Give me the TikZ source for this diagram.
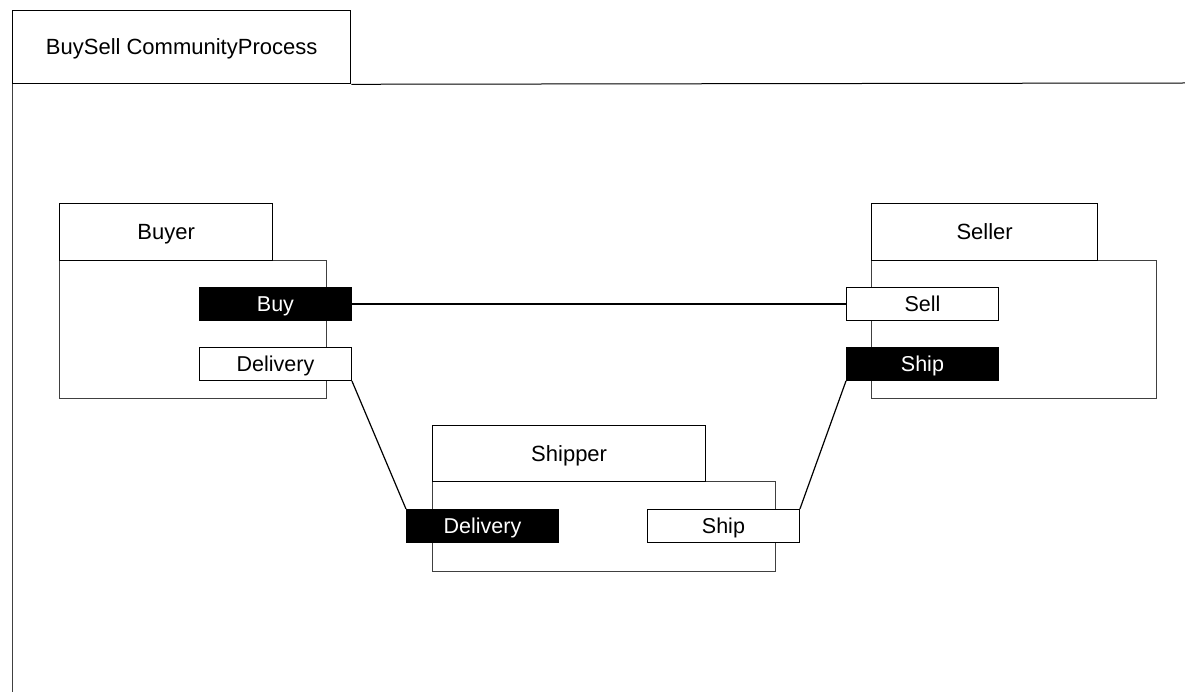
\documentclass[tikz,border=0pt]{standalone}
\usepackage{fontspec}
\setmainfont{Liberation Sans}
\begin{document}
\begin{tikzpicture}[x=1pt,y=-1pt,
  label text/.style={text height=15.6pt,text depth=0pt},
  tab/.style={draw=black,line width=1.3pt,fill=white,anchor=north west,inner sep=0pt,
    font=\fontsize{22}{26}\selectfont,label text},
  body/.style={draw=black!75,line width=0.9pt,fill=white,anchor=north west,inner sep=0pt},
  portw/.style={draw=black,line width=0.9pt,fill=white,anchor=north west,inner sep=0pt,
    minimum width=152pt,minimum height=33pt,font=\fontsize{21.5}{25}\selectfont,label text},
  portb/.style={portw,fill=black,text=white},
  wire/.style={draw=black,line width=1.2pt}]
\useasboundingbox (0,0) rectangle (1185,692);
% community frame
\node[tab,minimum width=338pt,minimum height=73pt] (community) at (12,10) {BuySell CommunityProcess};
\coordinate (frameEnd) at (1185,83);
\coordinate (frameBottom) at (12,692);
\draw[line width=1pt] (community.south east) -- (frameEnd);
\draw[line width=1pt,black!75] (community.south west) -- (frameBottom);
% Buyer
\node[body,minimum width=267pt,minimum height=138pt] (buyerBody) at (59,260) {};
\node[tab,minimum width=213pt,minimum height=57pt] (buyer) at (59,203) {Buyer};
\node[portb] (buy) at (199,287) {Buy};
\node[portw] (buyerDelivery) at (199,347) {Delivery};
% Seller
\node[body,minimum width=285pt,minimum height=138pt] (sellerBody) at (871,260) {};
\node[tab,minimum width=226pt,minimum height=57pt] (seller) at (871,203) {Seller};
\node[portw] (sell) at (846,287) {Sell};
\node[portb] (sellerShip) at (846,347) {Ship};
% Shipper
\node[body,minimum width=343pt,minimum height=90pt] (shipperBody) at (432,481) {};
\node[tab,minimum width=273pt,minimum height=56pt] (shipper) at (432,425) {Shipper};
\node[portb] (shipperDelivery) at (406,509) {Delivery};
\node[portw] (shipperShip) at (647,509) {Ship};
% connectors
\draw[wire] (buy.east) -- (sell.west);
\draw[wire] (buyerDelivery.south east) -- (shipperDelivery.north west);
\draw[wire] (sellerShip.south west) -- (shipperShip.north east);
\end{tikzpicture}
\end{document}
